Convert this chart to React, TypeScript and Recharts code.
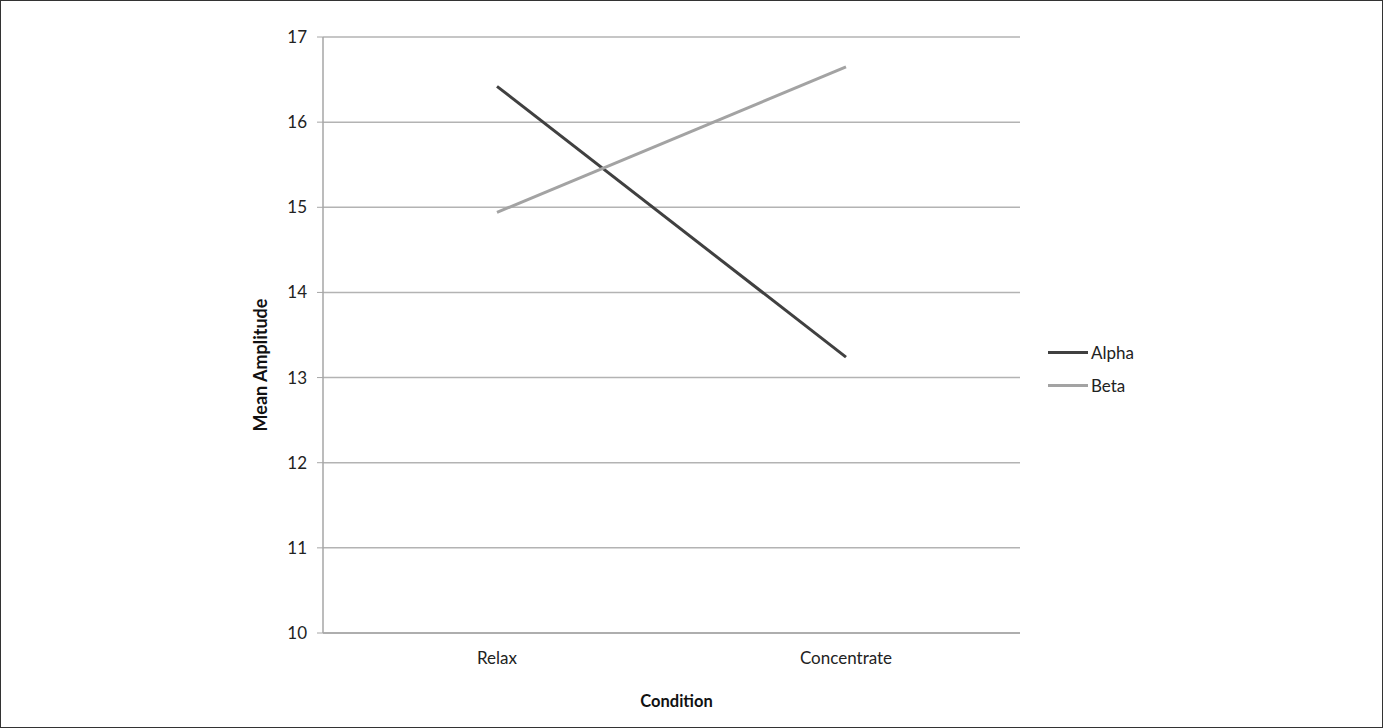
import { LineChart, Line, XAxis, YAxis, CartesianGrid, Legend } from "recharts"

const conditions = ["Relax", "Concentrate"]
const alpha = [16.42, 13.24]
const beta = [14.94, 16.65]
const yTicks = [10, 11, 12, 13, 14, 15, 16, 17]

const data = conditions.map((name, i) => ({ name, alpha: alpha[i], beta: beta[i] }))

const font = "Lato, 'Open Sans', sans-serif"

function LegendBox(props: any) {
  const items = props.payload || []
  return (
    <div style={{ fontFamily: font, fontSize: 17, color: "#222" }}>
      {items.map((p: any) => (
        <div key={p.value} style={{ display: "flex", alignItems: "center", height: 33 }}>
          <span style={{ display: "inline-block", width: 40, height: 3, background: p.color, marginRight: 3 }} />
          {p.value}
        </div>
      ))}
    </div>
  )
}

// y-axis title, placed a bit lower than the axis middle like the original
function YTitle() {
  return (
    <text
      x={259}
      y={364}
      transform="rotate(-90, 259, 364)"
      textAnchor="middle"
      dominantBaseline="central"
      fill="#111"
      fontSize={18}
      fontWeight={700}
      fontFamily={font}
    >
      Mean Amplitude
    </text>
  )
}

export default function App() {
  return (
    <div
      style={{
        position: "fixed",
        top: 0,
        left: 0,
        width: 1383,
        height: 728,
        boxSizing: "border-box",
        border: "1px solid #333",
        background: "#fff",
      }}
    >
      <LineChart
        width={1381}
        height={726}
        data={data}
        margin={{ top: 36, right: 242, bottom: 0, left: 0 }}
      >
        <CartesianGrid vertical={false} stroke="#b3b3b3" strokeWidth={1.5} />
        <XAxis
          dataKey="name"
          height={94}
          padding={{ left: 174, right: 174 }}
          tickLine={false}
          axisLine={{ stroke: "#a6a6a6", strokeWidth: 1.5 }}
          tick={{ fill: "#222", fontSize: 17, fontFamily: font }}
          tickMargin={13}
          label={{
            value: "Condition",
            position: "insideBottom",
            offset: 20,
            dx: 5,
            style: { fill: "#111", fontSize: 16.5, fontWeight: 700, fontFamily: font },
          }}
        />
        <YAxis
          width={322}
          domain={[10, 17]}
          ticks={yTicks}
          interval={0}
          tickSize={6}
          tickMargin={10}
          tickLine={{ stroke: "#a6a6a6" }}
          axisLine={{ stroke: "#a6a6a6", strokeWidth: 1.5 }}
          tick={{ fill: "#222", fontSize: 17, fontFamily: font }}
          label={{ content: <YTitle /> }}
        />
        <Legend
          layout="vertical"
          align="right"
          verticalAlign="top"
          content={<LegendBox />}
          wrapperStyle={{ left: 1047, top: 335, width: 120 }}
        />
        <Line
          dataKey="alpha"
          name="Alpha"
          stroke="#404040"
          strokeWidth={3}
          dot={false}
          isAnimationActive={false}
        />
        <Line
          dataKey="beta"
          name="Beta"
          stroke="#a3a3a3"
          strokeWidth={3}
          dot={false}
          isAnimationActive={false}
        />
      </LineChart>
    </div>
  )
}
